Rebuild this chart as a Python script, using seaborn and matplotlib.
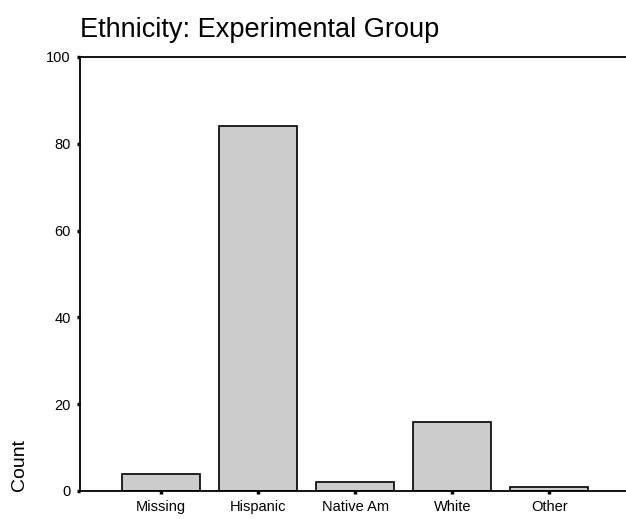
import matplotlib.pyplot as plt
import seaborn as sns
import pandas as pd

# category counts
groups = ['Missing', 'Hispanic', 'Native Am', 'White', 'Other']
counts = [4, 84, 2, 16, 1]

sns.set_style('white', {'xtick.bottom': True, 'ytick.left': True,
                        'text.color': 'black', 'xtick.color': 'black',
                        'ytick.color': 'black', 'axes.labelcolor': 'black'})
plt.rcParams['font.family'] = ['Liberation Sans', 'DejaVu Sans']

df = pd.DataFrame({'group': groups, 'count': counts})

fig = plt.figure(figsize=(6.26, 5.19), dpi=100)
ax = fig.add_axes([80 / 626, 1 - 491 / 519, 1 - 80 / 626, (491 - 57) / 519])

sns.barplot(data=df, x='group', y='count', color='#cccccc', saturation=1,
            edgecolor='black', linewidth=1.2, width=0.8, ax=ax)

ax.set_ylim(0, 100)
ax.set_xlim(-0.835, 4.79)
ax.set_yticks([0, 20, 40, 60, 80, 100])

ax.spines['right'].set_visible(False)
for s in ['left', 'top', 'bottom']:
    ax.spines[s].set_linewidth(1.3)
    ax.spines[s].set_color('black')

ax.tick_params(axis='both', direction='out', length=2.5, width=2.5,
               color='black', labelcolor='black', labelsize=10.5, pad=4)

ax.set_xlabel('')
ax.set_ylabel('Count', fontsize=14, loc='bottom', labelpad=13, color='black')

fig.text(80 / 626, 1 - 30 / 519, 'Ethnicity: Experimental Group',
         fontsize=19.5, va='center', ha='left', color='black')

fig.savefig('out.png', dpi=100)
